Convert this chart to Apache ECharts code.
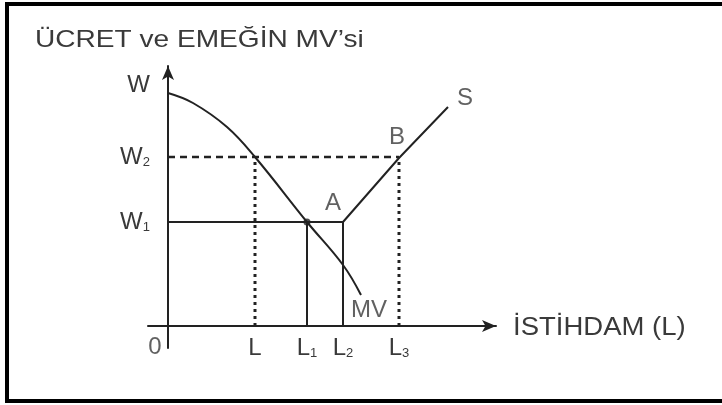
<!DOCTYPE html>
<html>
<head>
<meta charset="utf-8">
<script src="https://cdn.jsdelivr.net/npm/echarts@6/dist/echarts.min.js"></script>
<style>
html, body { margin: 0; padding: 0; background: #fff; }
#chart { width: 722px; height: 405px; }
</style>
</head>
<body>
<div id="chart"></div>
<script>
// values (1 unit ~ 1 px)
var mvCurve = [[0, 233], [25, 223], [59, 199], [87, 169], [139, 104], [175, 61], [193, 31]];
var supplyS = [[0, 104], [175, 104], [231, 168], [280, 219]];
var xTicks = [87, 139, 175, 231];
var xTickNames = ['{m|L}', '{m|L}{s|1}', '{m|L}{s|2}', '{m|L}{s|3}'];
var yTicks = [104, 169, 241];
var yTickNames = ['{m|W}{s|1}', '{m|W}{s|2}', '{m|W}'];
var W1 = 104, W2 = 169;
var L = 87, L1 = 139, L2 = 175, L3 = 231;

var ink = '#222';
var txt = '#3a3a3a';
var font = 'Liberation Sans';
var rich = {
    m: { fontSize: 24, lineHeight: 24, color: txt, fontFamily: font },
    s: { fontSize: 13, lineHeight: 24, color: txt, fontFamily: font, verticalAlign: 'bottom' }
};

function seg(pts, type, width) {
    return {
        type: 'line', data: pts, symbol: 'none', silent: true,
        lineStyle: { color: ink, width: width || 2, type: type || 'solid' }
    };
}

var chart = echarts.init(document.getElementById('chart'));
chart.setOption({
    animation: false,
    backgroundColor: '#fff',
    grid: { left: 148, top: 66, width: 348, height: 282 },
    xAxis: {
        type: 'value', min: -20, max: 328,
        splitLine: { show: false },
        axisTick: { show: false },
        axisLine: { onZero: true, symbol: ['none', 'arrow'], symbolSize: [9, 14], lineStyle: { color: ink, width: 2 } },
        axisLabel: {
            customValues: xTicks, margin: -12, fontSize: 24,
            formatter: function (v) { return xTickNames[xTicks.indexOf(v)] || ''; },
            rich: rich
        }
    },
    yAxis: {
        type: 'value', min: -22, max: 260,
        splitLine: { show: false },
        axisTick: { show: false },
        axisLine: { onZero: true, symbol: ['none', 'arrow'], symbolSize: [9, 14], lineStyle: { color: ink, width: 2 } },
        axisLabel: {
            customValues: yTicks, margin: -2, fontSize: 24,
            formatter: function (v) { return yTickNames[yTicks.indexOf(v)] || ''; },
            rich: rich
        }
    },
    series: [
        {
            type: 'line', data: mvCurve, smooth: 0.4, symbol: 'none', silent: true,
            lineStyle: { color: ink, width: 2 }
        },
        {
            type: 'line', data: supplyS, symbol: 'none', silent: true,
            lineStyle: { color: ink, width: 2 }
        },
        seg([[L1, 0], [L1, W1]]),
        seg([[L2, 0], [L2, W1]]),
        seg([[L, 0], [L, W2]], [3, 4], 3),
        seg([[L3, 0], [L3, W2 - 1]], [3, 4], 3),
        seg([[0, W2], [L3, W2]], [7, 5], 2.5),
        {
            type: 'scatter', data: [[L1, W1]], symbolSize: 7, silent: true,
            itemStyle: { color: ink }
        },
        {
            type: 'scatter', symbolSize: 0, silent: true,
            label: { show: true, color: txt, fontSize: 24, fontFamily: font, formatter: '{@[2]}' },
            data: [
                { value: [165, 123, 'A'] },
                { value: [229, 189, 'B'] },
                { value: [297, 228, 'S'] },
                { value: [201, 16, 'MV'] },
                { value: [-13, -21, '0'] }
            ]
        }
    ],
    graphic: [
        {
            type: 'polyline', silent: true,
            shape: { points: [[722, 4], [7, 4], [7, 401], [722, 401]] },
            style: { stroke: '#000', lineWidth: 4, fill: null }
        },
        {
            type: 'text', x: 35, y: 28, scaleX: 1.17, silent: true,
            style: { text: 'ÜCRET ve EMEĞİN MV’si', fontSize: 24, fill: txt, fontFamily: font }
        },
        {
            type: 'text', x: 513, y: 316, scaleX: 1.1, silent: true,
            style: { text: 'İSTİHDAM (L)', fontSize: 25, fill: txt, fontFamily: font }
        }
    ]
});
</script>
</body>
</html>
